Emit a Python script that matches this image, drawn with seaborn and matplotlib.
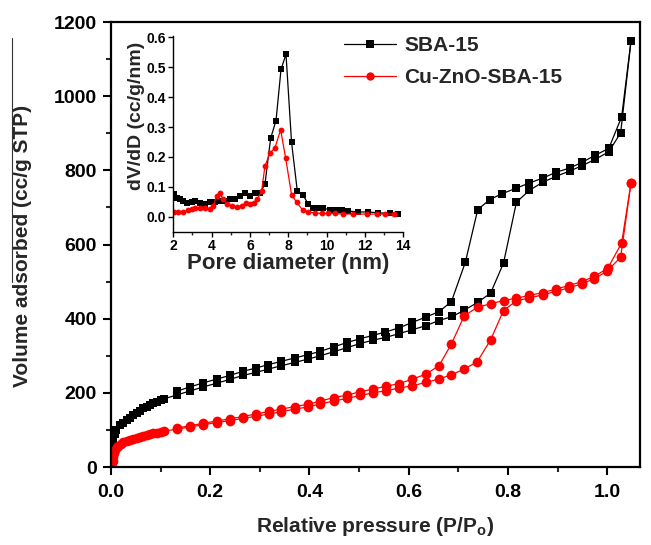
import numpy as np
import pandas as pd
import matplotlib
matplotlib.use('Agg')
import matplotlib.pyplot as plt
from matplotlib.ticker import MultipleLocator
from matplotlib.lines import Line2D
import seaborn as sns

# isotherms (x axis as drawn, so it runs a bit past 1.0)
sba_ads_p = [0.002, 0.004, 0.008, 0.011, 0.018, 0.025, 0.032, 0.038, 0.045, 0.052, 0.058, 0.065,
             0.072, 0.078, 0.085, 0.092, 0.100, 0.107, 0.132, 0.159, 0.186, 0.213, 0.239, 0.266,
             0.292, 0.317, 0.343, 0.370, 0.397, 0.422, 0.449, 0.476, 0.502, 0.528, 0.555, 0.581,
             0.607, 0.634, 0.661, 0.688, 0.712, 0.739, 0.765, 0.791, 0.817, 0.843, 0.870, 0.897,
             0.924, 0.950, 0.976, 1.003, 1.027, 1.048]
sba_ads_v = [55, 72, 88, 100, 112, 120, 127, 133, 140, 146, 152, 158,
             163, 168, 172, 176, 180, 184, 194, 205, 216, 226, 236, 247,
             255, 264, 273, 282, 291, 300, 311, 322, 333, 342, 350, 360,
             370, 381, 395, 406, 423, 444, 469, 550, 714, 746, 768, 784,
             798, 813, 830, 850, 901, 1150]
sba_des_p = [1.048, 1.029, 1.003, 0.976, 0.950, 0.924, 0.897, 0.870, 0.843, 0.817, 0.788, 0.763,
             0.739, 0.714, 0.686, 0.661, 0.634, 0.607, 0.580, 0.553, 0.528, 0.502, 0.476, 0.449,
             0.422, 0.397, 0.370, 0.343, 0.317, 0.292, 0.266, 0.239, 0.213, 0.186, 0.159, 0.132]
sba_des_v = [1150, 944, 859, 841, 822, 806, 795, 779, 766, 752, 737, 721,
             694, 552, 446, 419, 404, 390, 375, 364, 355, 346, 336, 324,
             312, 303, 294, 285, 276, 267, 258, 247, 237, 227, 216, 204]

cu_ads_p = [0.003, 0.004, 0.005, 0.007, 0.009, 0.012, 0.015, 0.020, 0.025, 0.032, 0.038, 0.045,
            0.052, 0.058, 0.065, 0.072, 0.078, 0.085, 0.092, 0.100, 0.107, 0.132, 0.159, 0.186,
            0.213, 0.239, 0.266, 0.292, 0.319, 0.343, 0.370, 0.397, 0.422, 0.449, 0.476, 0.502,
            0.528, 0.555, 0.581, 0.607, 0.634, 0.661, 0.686, 0.712, 0.738, 0.765, 0.791, 0.817,
            0.843, 0.870, 0.897, 0.922, 0.949, 0.974, 1.000, 1.027, 1.048]
cu_ads_v = [0, 15, 28, 38, 46, 53, 58, 63, 67, 70, 73, 76,
            79, 82, 84, 86, 88, 91, 93, 95, 97, 102, 108, 114,
            120, 125, 131, 137, 143, 149, 156, 162, 170, 178, 185, 193,
            200, 206, 213, 219, 228, 237, 249, 264, 284, 343, 422, 448,
            456, 464, 474, 483, 494, 508, 528, 566, 767]
cu_des_p = [1.048, 1.029, 1.001, 0.974, 0.949, 0.922, 0.897, 0.870, 0.843, 0.817, 0.791, 0.765,
            0.739, 0.712, 0.686, 0.661, 0.634, 0.607, 0.581, 0.555, 0.528, 0.502, 0.476, 0.449,
            0.422, 0.397, 0.370, 0.343, 0.319, 0.292, 0.266, 0.239, 0.213, 0.186, 0.159, 0.132]
cu_des_v = [767, 604, 536, 514, 500, 489, 480, 470, 463, 455, 449, 440,
            431, 408, 332, 273, 250, 237, 225, 218, 210, 203, 194, 187,
            178, 169, 163, 156, 150, 143, 136, 130, 124, 118, 111, 105]

# pore size distribution (inset)
sba_d = [2.03, 2.17, 2.35, 2.52, 2.70, 2.96, 3.13, 3.39, 3.65, 3.91, 4.17, 4.43, 4.70, 4.96,
         5.22, 5.48, 5.74, 6.00, 6.26, 6.52, 6.78, 7.08, 7.36, 7.62, 7.88, 8.17, 8.47, 8.75,
         9.04, 9.30, 9.57, 9.83, 10.17, 10.49, 10.78, 11.13, 11.65, 12.17, 12.70, 13.30, 13.74]
sba_dv = [0.075, 0.063, 0.058, 0.052, 0.047, 0.049, 0.052, 0.047, 0.044, 0.049, 0.049, 0.052,
          0.052, 0.058, 0.058, 0.071, 0.078, 0.071, 0.078, 0.080, 0.108, 0.263, 0.322, 0.493,
          0.544, 0.249, 0.086, 0.074, 0.043, 0.030, 0.030, 0.028, 0.024, 0.024, 0.024, 0.019,
          0.016, 0.016, 0.013, 0.011, 0.008]
cu_d = [2.03, 2.26, 2.52, 2.78, 2.96, 3.13, 3.39, 3.65, 3.91, 4.09, 4.26, 4.43, 4.61, 4.82,
        5.04, 5.30, 5.57, 5.79, 6.00, 6.21, 6.38, 6.61, 6.78, 7.04, 7.30, 7.60, 7.86, 8.17,
        8.43, 8.75, 9.04, 9.39, 9.74, 10.09, 10.43, 10.87, 11.39, 12.09, 12.61, 13.04, 13.51]
cu_dv = [0.016, 0.016, 0.017, 0.021, 0.027, 0.030, 0.028, 0.028, 0.027, 0.036, 0.071, 0.078,
         0.058, 0.041, 0.036, 0.033, 0.036, 0.047, 0.041, 0.047, 0.058, 0.086, 0.169, 0.213,
         0.230, 0.291, 0.197, 0.074, 0.049, 0.022, 0.016, 0.013, 0.011, 0.011, 0.011, 0.009,
         0.009, 0.009, 0.009, 0.009, 0.009]

labels = ['SBA-15', 'Cu-ZnO-SBA-15']
colors = ['black', '#ff0000']

sns.set_theme(style='ticks')
plt.rcParams['font.family'] = ['Liberation Sans', 'DejaVu Sans']
plt.rcParams['font.weight'] = 'bold'
plt.rcParams['mathtext.fontset'] = 'custom'
plt.rcParams['mathtext.bf'] = 'Liberation Sans:bold'
plt.rcParams['mathtext.rm'] = 'Liberation Sans:bold'

fig = plt.figure(figsize=(6.51, 5.45), dpi=100)
ax = fig.add_axes([0.1705, 0.1431, 0.8126, 0.8165])

iso = [(sba_ads_p, sba_ads_v, sba_des_p, sba_des_v, 's', 6.4),
       (cu_ads_p, cu_ads_v, cu_des_p, cu_des_v, 'o', 7.0)]
for (ap, av, dp, dv, mk, ms), lab, c in zip(iso, labels, colors):
    ads = pd.DataFrame({'p': ap, 'v': av})
    des = pd.DataFrame({'p': dp, 'v': dv})
    sns.lineplot(data=ads, x='p', y='v', ax=ax, sort=False, estimator=None, color=c,
                 marker=mk, markersize=ms, markeredgewidth=0, linewidth=0.9, label=lab)
    sns.lineplot(data=des, x='p', y='v', ax=ax, sort=False, estimator=None, color=c,
                 marker=mk, markersize=ms, markeredgewidth=0, linewidth=0.9, legend=False)

ax.set_xlim(0, 1.066)
ax.set_ylim(0, 1200)
ax.xaxis.set_major_locator(MultipleLocator(0.2))
ax.xaxis.set_minor_locator(MultipleLocator(0.1))
ax.yaxis.set_major_locator(MultipleLocator(200))
ax.yaxis.set_minor_locator(MultipleLocator(100))
ax.xaxis.set_major_formatter(matplotlib.ticker.FormatStrFormatter('%.1f'))
for s in ax.spines.values():
    s.set_linewidth(1.6)
    s.set_color('black')
ax.tick_params(which='major', direction='out', length=6, width=1.5, labelsize=14, pad=4, colors='black')
ax.tick_params(which='minor', direction='out', length=3.5, width=1.5)
ax.tick_params(axis='x', pad=6)
ax.set_xlabel(r'Relative pressure (P/P$_{\mathbf{o}}$)', fontsize=15, fontweight='bold', labelpad=10)
ax.set_ylabel('Volume adsorbed (cc/g STP)', fontsize=15, fontweight='bold')
ax.yaxis.set_label_coords(-0.150, 0.497)

leg = ax.legend(loc='upper left', bbox_to_anchor=(0.44, 0.968), frameon=False, fontsize=15,
                handlelength=2.5, handletextpad=0.4, labelspacing=0.62, borderaxespad=0, borderpad=0)
for h in leg.legend_handles:
    h.set_markersize(6)

# inset
ins = fig.add_axes([0.2662, 0.5749, 0.3533, 0.3591])
ins.patch.set_alpha(0)
for dd, dv, c, mk in [(sba_d, sba_dv, colors[0], 's'), (cu_d, cu_dv, colors[1], 'o')]:
    sns.lineplot(x=dd, y=dv, ax=ins, sort=False, estimator=None, color=c, marker=mk,
                 markersize=4.2, markeredgewidth=0, linewidth=0.9, legend=False)
ins.set_xlim(2, 14)
ins.set_ylim(-0.05, 0.605)
ins.xaxis.set_major_locator(MultipleLocator(2))
ins.xaxis.set_minor_locator(MultipleLocator(1))
ins.yaxis.set_major_locator(MultipleLocator(0.1))
ins.yaxis.set_major_formatter(matplotlib.ticker.FormatStrFormatter('%.1f'))
sns.despine(ax=ins)
for s in ['left', 'bottom']:
    ins.spines[s].set_linewidth(1.0)
    ins.spines[s].set_color('black')
ins.tick_params(which='major', direction='out', length=3.5, width=1, labelsize=10, pad=2, colors='black')
ins.tick_params(which='minor', direction='out', length=2, width=1)
ins.set_xlabel('Pore diameter (nm)', fontsize=16, fontweight='bold', labelpad=0)
ins.set_ylabel('dV/dD (cc/g/nm)', fontsize=14, fontweight='bold')
ins.yaxis.set_label_coords(-0.122, 0.59)

# stray rule left of the y label in the original scan
fig.add_artist(Line2D([0.018, 0.018], [1 - 38 / 545, 1 - 282 / 545], color='#333333', linewidth=0.8))

fig.savefig('out.png', dpi=100, facecolor='white')
